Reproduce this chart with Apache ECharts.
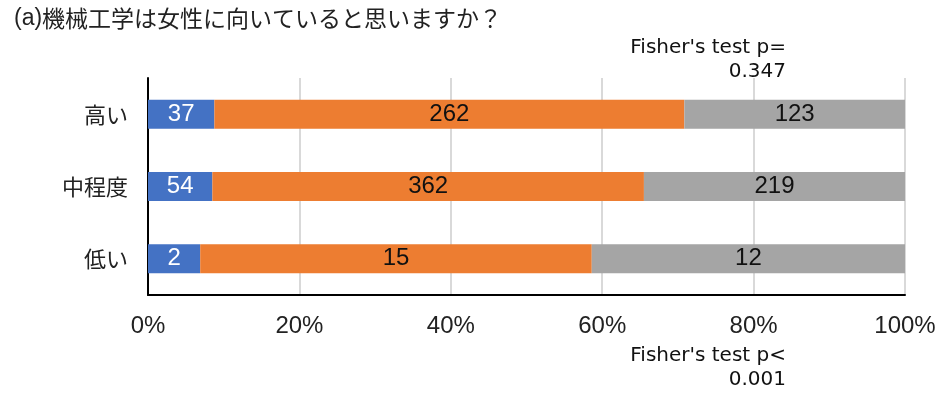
<!DOCTYPE html>
<html>
<head>
<meta charset="utf-8">
<script src="https://cdn.jsdelivr.net/npm/echarts@6/dist/echarts.min.js"></script>
<style>
  html, body { margin: 0; padding: 0; background: #fff; }
  #chart { width: 951px; height: 394px; }
</style>
</head>
<body>
<div id="chart"></div>
<script>
// Response groups (top to bottom) and the answer counts for each group
const categories = ['高い', '中程度', '低い'];
const countsBlue = [37, 54, 2];
const countsOrange = [262, 362, 15];
const countsGray = [123, 219, 12];
const tickLabels = ['0%', '20%', '40%', '60%', '80%', '100%'];
const titleText = '機械工学は女性に向いていると思いますか？';
const noteTop = ["Fisher's test p=", '0.347'];
const noteBottom = ["Fisher's test p<", '0.001'];

// Row totals used to turn counts into shares of 100%
const totals = categories.map((_, i) => countsBlue[i] + countsOrange[i] + countsGray[i]);
const toShare = arr => arr.map((v, i) => ({ value: v / totals[i] * 100, count: v }));

const chart = echarts.init(document.getElementById('chart'));

const labelFont = 'Liberation Sans, Arial, sans-serif';
const cjkFont = '"Noto Sans CJK JP", sans-serif';
const noteFont = '"DejaVu Sans", Verdana, sans-serif';

function makeSeries(name, counts, color, labelColor) {
  return {
    name: name,
    type: 'bar',
    stack: 'total',
    barWidth: 29,
    data: toShare(counts),
    itemStyle: { color: color },
    label: {
      show: true,
      position: 'inside',
      color: labelColor,
      fontFamily: labelFont,
      fontSize: 24,
      formatter: p => String(p.data.count)
    },
    emphasis: { disabled: true }
  };
}

// Right-aligned note text, one element per line
function noteLines(lines, yTop) {
  return lines.map((t, i) => ({
    type: 'text',
    x: 786,
    y: yTop + i * 24,
    style: {
      text: t,
      align: 'right',
      textAlign: 'right',
      verticalAlign: 'middle',
      textVerticalAlign: 'middle',
      fontFamily: noteFont,
      fontSize: 20,
      fill: '#111'
    }
  }));
}

chart.setOption({
  animation: false,
  backgroundColor: '#ffffff',
  grid: { left: 148, right: 46, top: 78, bottom: 99, containLabel: false },
  xAxis: {
    type: 'value',
    min: 0,
    max: 100,
    interval: 20,
    axisLine: { show: true, lineStyle: { color: '#000', width: 2 } },
    axisTick: { show: false },
    splitLine: { show: true, lineStyle: { color: '#d9d9d9', width: 2 } },
    axisLabel: {
      margin: 19,
      color: '#222',
      fontFamily: labelFont,
      fontSize: 24,
      formatter: v => tickLabels[Math.round(v / 20)]
    }
  },
  yAxis: {
    type: 'category',
    inverse: true,
    data: categories,
    axisLine: { show: true, lineStyle: { color: '#000', width: 2 } },
    axisTick: { show: false },
    axisLabel: {
      margin: 20,
      color: '#222',
      fontFamily: cjkFont,
      fontSize: 22
    }
  },
  graphic: [
    {
      type: 'text', left: 14, top: 7,
      style: {
        text: '{a|(a)}{b|' + titleText + '}',
        rich: {
          a: { fontFamily: labelFont, fontSize: 23, fill: '#222' },
          b: { fontFamily: cjkFont, fontSize: 23, fill: '#222' }
        }
      }
    }
  ].concat(noteLines(noteTop, 48), noteLines(noteBottom, 356)),
  series: [
    makeSeries('A', countsBlue, '#4472c4', '#ffffff'),
    makeSeries('B', countsOrange, '#ed7d31', '#111111'),
    makeSeries('C', countsGray, '#a5a5a5', '#111111')
  ]
});
</script>
</body>
</html>
